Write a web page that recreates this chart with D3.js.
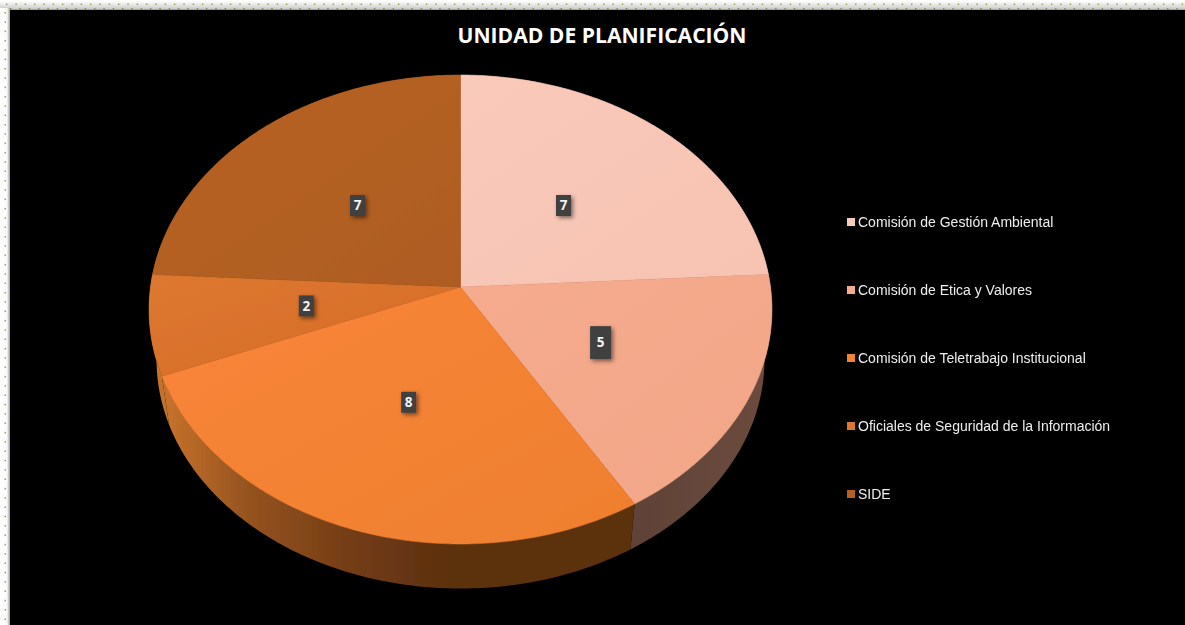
<!DOCTYPE html>
<html><head><meta charset="utf-8">
<script src="https://cdnjs.cloudflare.com/ajax/libs/d3/7.8.5/d3.min.js"></script>
<style>html,body{margin:0;padding:0;background:#fff;overflow:hidden}svg{display:block}</style>
</head><body><svg id="c" width="1185" height="625"></svg>
<script>
const chartTitle = "UNIDAD DE PLANIFICACIÓN";
const categories = ["Comisión de Gestión Ambiental","Comisión de Etica y Valores","Comisión de Teletrabajo Institucional","Oficiales de Seguridad de la Información","SIDE"];
const values = [7,5,8,2,7];
const topColors = [["#f9c9ba","#f7c3b2"],["#f5ab8e","#f3a688"],["#f9853a","#ee7f2e"],["#de7730","#d46c28"],["#b86326","#ae5c20"]];
const legendColors = ["#f9cbbd","#f5ab8e","#f58233","#dc7430","#b36124"];
const wallStops = {
  0:[[0,"#62443a"],[1,"#6e4b3f"]],
  1:[[0,"#5f4237"],[1,"#6e4b3f"]],
  2:[[0,"#c8732b"],[0.18,"#95531f"],[0.4,"#733c15"],[0.6,"#5c3010"],[1,"#5c3010"]],
  3:[[0,"#c8772f"],[1,"#bf6f2a"]],
  4:[[0,"#8a4a1a"],[1,"#8a4a1a"]]
};

const svg = d3.select("#c"), W = 1185, H = 625;
const defs = svg.append("defs");

// frame
const band = defs.append("linearGradient").attr("id","band").attr("x1",0).attr("x2",0).attr("y1",0).attr("y2",1);
band.append("stop").attr("offset",0).attr("stop-color","#ffffff");
band.append("stop").attr("offset",.25).attr("stop-color","#f0f0f0");
band.append("stop").attr("offset",.85).attr("stop-color","#cdcdcd");
band.append("stop").attr("offset",1).attr("stop-color","#8f8f8f");
const bandL = defs.append("linearGradient").attr("id","bandL").attr("x1",0).attr("x2",1).attr("y1",0).attr("y2",0);
bandL.append("stop").attr("offset",0).attr("stop-color","#ffffff");
bandL.append("stop").attr("offset",.7).attr("stop-color","#fbfbfb");
bandL.append("stop").attr("offset",1).attr("stop-color","#999999");
svg.append("rect").attr("width",W).attr("height",H).attr("fill","#fff");
svg.append("rect").attr("x",0).attr("y",1).attr("width",W).attr("height",9).attr("fill","url(#band)");
svg.append("rect").attr("x",0).attr("y",8).attr("width",10).attr("height",H).attr("fill","url(#bandL)");
const dot = 9.33;
d3.range(6,W,dot).forEach(x=>{
  svg.append("rect").attr("x",x).attr("y",3.5).attr("width",1.5).attr("height",1.5).attr("fill","#9da254");
  svg.append("rect").attr("x",x+4).attr("y",8).attr("width",1.5).attr("height",1.5).attr("fill","#868b4c");
});
d3.range(12,H,dot).forEach(y=>{
  svg.append("rect").attr("x",4.5).attr("y",y).attr("width",1.5).attr("height",1.5).attr("fill","#9da254");
});
svg.append("rect").attr("x",10).attr("y",10).attr("width",W-10).attr("height",H-10).attr("fill","#000");

// perspective projection of the unit disc
const cx = 460.5, apexY = 287, A = 310, B = 232.3, K = -0.096;
const depthScale = 0.976, vanishY = 2400;
const project = (r,t)=>{
  const x = r*Math.sin(t), y = -r*Math.cos(t), w = 1+K*y;
  return [cx + A*x/w, apexY + B*y/w];
};
const lower = p => [cx+(p[0]-cx)*depthScale, vanishY-(vanishY-p[1])*depthScale];
const rimPts = (a0,a1)=> d3.range(0,121).map(i=>project(1,a0+(a1-a0)*i/120));
const line = d3.line();

const arcs = d3.pie().sort(null)(values);

const shadow = defs.append("filter").attr("id","sh").attr("x","-40%").attr("y","-40%").attr("width","190%").attr("height","190%");
shadow.append("feDropShadow").attr("dx",2).attr("dy",2).attr("stdDeviation",2).attr("flood-color","#000").attr("flood-opacity",.5);
const soft = defs.append("filter").attr("id","soft").attr("x","-2%").attr("y","-2%").attr("width","104%").attr("height","104%");
soft.append("feGaussianBlur").attr("stdDeviation",.5);
const softT = defs.append("filter").attr("id","softT").attr("x","-5%").attr("y","-20%").attr("width","110%").attr("height","140%");
softT.append("feGaussianBlur").attr("stdDeviation",.35);

const pie = svg.append("g").attr("filter","url(#soft)");

// walls
arcs.forEach((d,i)=>{
  const g = defs.append("linearGradient").attr("id","wall"+i).attr("gradientUnits","userSpaceOnUse")
    .attr("x1",i===2?162:(i===3?150:634)).attr("x2",i===2?640:(i===3?170:772)).attr("y1",0).attr("y2",0);
  wallStops[i].forEach(s=>g.append("stop").attr("offset",s[0]).attr("stop-color",s[1]));
  const up = rimPts(d.startAngle,d.endAngle);
  const down = up.map(lower).reverse();
  pie.append("path").attr("d",line(up.concat(down))+"Z").attr("fill",`url(#wall${i})`);
});

// top faces, each with a hairline of its own colour so no dark seam shows
arcs.forEach((d,i)=>{
  const g = defs.append("linearGradient").attr("id","top"+i).attr("x1",0).attr("y1",0).attr("x2",1).attr("y2",1);
  g.append("stop").attr("offset",0).attr("stop-color",topColors[i][0]);
  g.append("stop").attr("offset",1).attr("stop-color",topColors[i][1]);
  const pts = [project(0,0)].concat(rimPts(d.startAngle,d.endAngle));
  pie.append("path").attr("d",line(pts)+"Z").attr("fill",`url(#top${i})`)
    .attr("stroke",`url(#top${i})`).attr("stroke-width",.6).attr("stroke-linejoin","round");
});

// data labels
const labels = svg.append("g");
arcs.forEach(d=>{
  const p = project(.5,(d.startAngle+d.endAngle)/2);
  const big = d.value===5;
  const bw = big?21:15, bh = big?33:21;
  labels.append("rect").attr("x",p[0]-bw/2).attr("y",p[1]-bh/2).attr("width",bw).attr("height",bh)
    .attr("fill","#404040").attr("filter","url(#sh)");
  labels.append("text").attr("x",p[0]).attr("y",p[1]+4.8).attr("text-anchor","middle")
    .attr("font-family","'Open Sans',sans-serif").attr("font-weight",700).attr("font-size",13.5)
    .attr("fill","#f4f4f4").text(d.value);
});

// title
svg.append("text").attr("x",602).attr("y",43).attr("text-anchor","middle")
  .attr("font-family","'Open Sans',sans-serif").attr("font-weight",700).attr("font-size",21.1)
  .attr("fill","#fff").text(chartTitle);

// legend
const legendY = d3.scalePoint().domain(categories).range([222,494]);
const leg = svg.append("g").attr("filter","url(#softT)");
categories.forEach((c,i)=>{
  leg.append("rect").attr("x",847).attr("y",legendY(c)-4).attr("width",8).attr("height",8).attr("fill",legendColors[i]);
  leg.append("text").attr("x",858).attr("y",legendY(c)+4.5)
    .attr("font-family","'Liberation Sans',Arial,sans-serif").attr("font-size",14).attr("fill","#eeeeee").text(c);
});
</script></body></html>
